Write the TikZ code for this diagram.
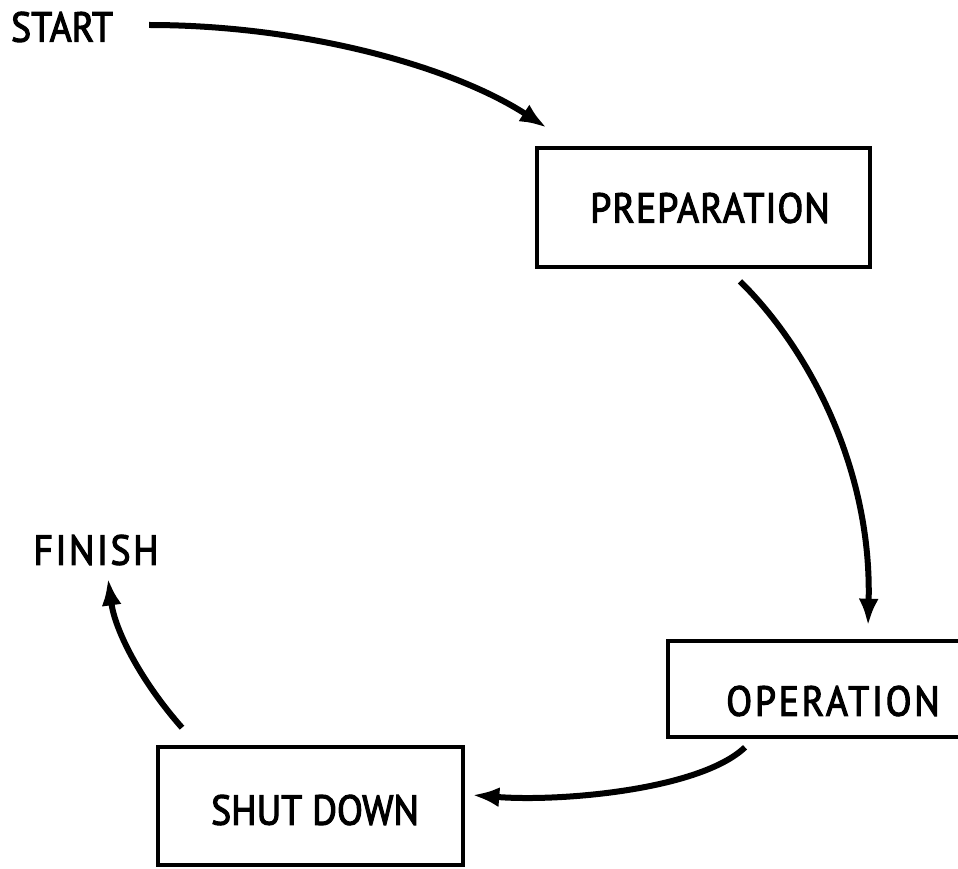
\documentclass[tikz,border=0pt]{standalone}
\usepackage{fontspec}
\setmainfont[FakeStretch=0.9,FakeBold=2.6]{PT Sans}
\usetikzlibrary{arrows.meta,calc}
\begin{document}
\begin{tikzpicture}[x=1pt,y=-1pt,
  stagebox/.style={draw,line width=4.6pt,inner sep=0pt},
  label/.style={inner sep=0pt,font=\fontsize{42}{44}\selectfont},
  flow/.style={line width=6pt,-{Latex[length=27pt,width=20pt]}}]
  \useasboundingbox (0,0) rectangle (958,869);
  % stages of the cycle
  \node[stagebox,minimum width=333pt,minimum height=119pt] (prep) at (703.5,207.5) {};
  \node[stagebox,minimum width=310pt,minimum height=96pt] (oper) at (823,689) {};
  \node[stagebox,minimum width=305pt,minimum height=118pt] (shut) at (310.5,806) {};
  \node[label] (start) at (62,27) {START};
  \node[label] (finish) at (96,550) {\addfontfeature{LetterSpace=6}FINISH};
  \node[label] (preptext) at (710,208) {\addfontfeature{LetterSpace=2.5}PREPARATION};
  \node[label] (opertext) at (833,701) {\addfontfeature{LetterSpace=6.5}OPERATION};
  \node[label] (shuttext) at (315,810) {SHUT DOWN};
  % connector end points
  \coordinate (a1s) at ($(start.east)+(36,-2)$);
  \coordinate (a1e) at ($(prep.north west)+(12,-18)$);
  \coordinate (a2s) at ($(740,0 |- prep.south)+(0,12)$);
  \coordinate (a2e) at ($(868,0 |- oper.north)+(0,-13)$);
  \coordinate (a3s) at ($(745,0 |- oper.south)+(0,8)$);
  \coordinate (a3e) at ($(shut.east |- 0,795)+(7,0)$);
  \coordinate (a4s) at ($(182,0 |- shut.north)+(0,-17)$);
  \coordinate (a4e) at ($(108,0 |- finish.south)+(0,13)$);
  % flow of the cycle
  \draw[flow] (a1s) .. controls (300,25) and (450,65) .. (a1e);
  \draw[flow] (a2s) .. controls (810,350) and (872,470) .. (a2e);
  \draw[flow] (a3s) .. controls (700,790) and (560,802) .. (a3e);
  \draw[flow] (a4s) .. controls (140,680) and (115,630) .. (a4e);
\end{tikzpicture}
\end{document}
